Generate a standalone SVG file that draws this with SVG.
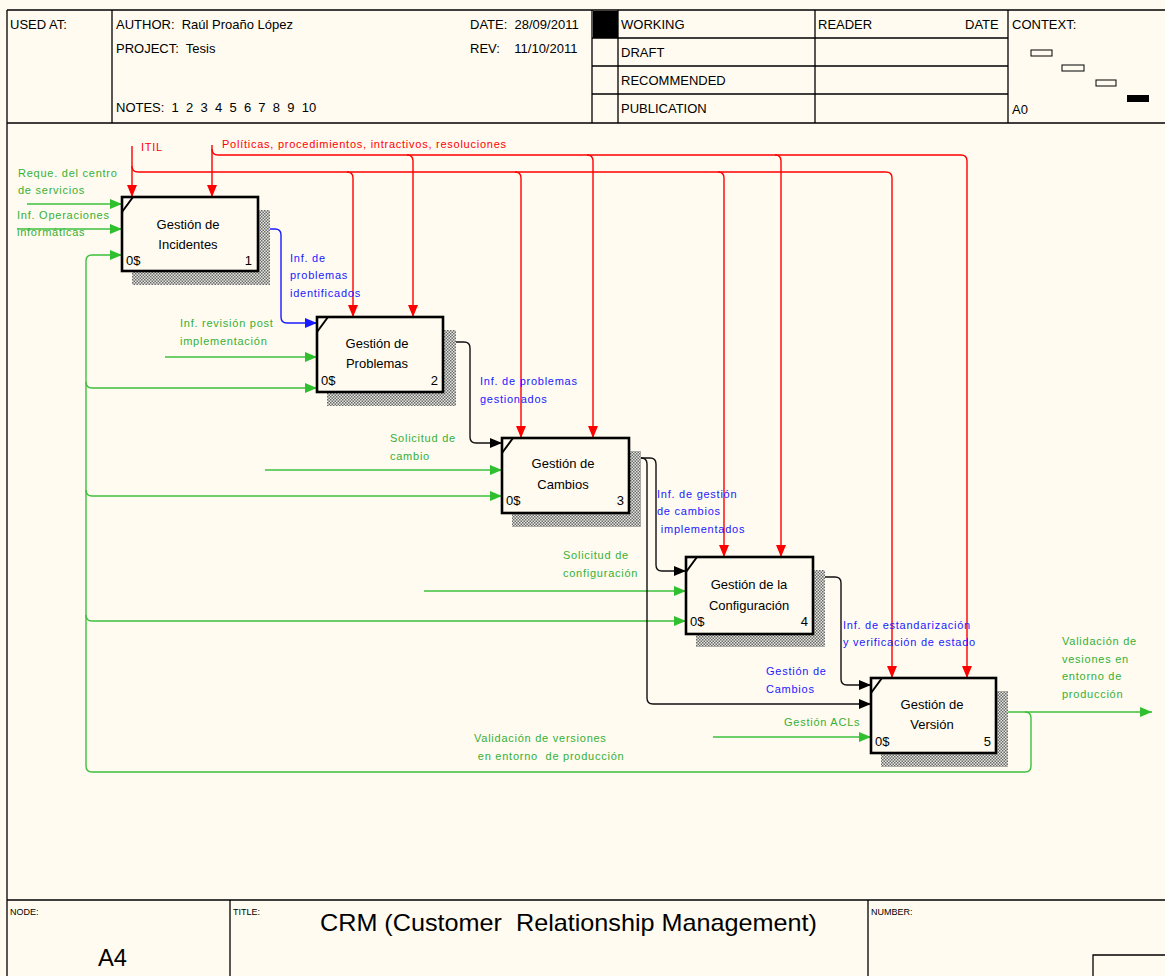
<svg xmlns="http://www.w3.org/2000/svg" width="1165" height="976" viewBox="0 0 1165 976">
  <defs>
    <style>
      text { white-space: pre; }
      .frame { fill: none; stroke: #000; stroke-width: 1.3; }
      .hdr { font-family: "Liberation Sans", Arial, sans-serif; font-size: 13px; fill: #000; }
      .tiny { font-family: "Liberation Sans", Arial, sans-serif; font-size: 9px; fill: #000; }
      .box { fill: #fffbf0; stroke: #000; stroke-width: 2.6; }
      .shadow { fill: url(#hatch); }
      .tick { stroke: #000; stroke-width: 2; }
      .bname { font-family: "Liberation Sans", Arial, sans-serif; font-size: 13px; fill: #000; text-anchor: middle; }
      .bnum { font-family: "Liberation Sans", Arial, sans-serif; font-size: 13px; fill: #000; }
      .lbl { font-family: "Liberation Sans", Arial, sans-serif; font-size: 11px; letter-spacing: 0.75px; }
      .red { stroke: #ff0000; }
      .grn { stroke: #3cc03c; }
      .blu { stroke: #1a1aff; }
      .blk { stroke: #111; }
      .c { fill: none; stroke-width: 1.4; }
      .tr { fill: #ff0000; }
      .tg { fill: #35b035; }
      .tb { fill: #1a1aff; }
    </style>
    <pattern id="hatch" patternUnits="userSpaceOnUse" width="3" height="3">
      <rect width="3" height="3" fill="#e6e6e0"/>
      <rect x="0" y="0" width="1.5" height="1.5" fill="#6a6a6a"/>
      <rect x="1.5" y="1.5" width="1.5" height="1.5" fill="#6a6a6a"/>
    </pattern>
    <marker id="aR" markerUnits="userSpaceOnUse" markerWidth="12" markerHeight="12" viewBox="0 0 12 12" refX="12" refY="6" orient="auto">
      <path d="M0,1 L12,6 L0,11 Z" fill="#ff0000"/>
    </marker>
    <marker id="aG" markerUnits="userSpaceOnUse" markerWidth="12" markerHeight="12" viewBox="0 0 12 12" refX="12" refY="6" orient="auto">
      <path d="M0,1 L12,6 L0,11 Z" fill="#2fbf2f"/>
    </marker>
    <marker id="aB" markerUnits="userSpaceOnUse" markerWidth="12" markerHeight="12" viewBox="0 0 12 12" refX="12" refY="6" orient="auto">
      <path d="M0,1 L12,6 L0,11 Z" fill="#1a1aff"/>
    </marker>
    <marker id="aK" markerUnits="userSpaceOnUse" markerWidth="12" markerHeight="12" viewBox="0 0 12 12" refX="12" refY="6" orient="auto">
      <path d="M0,1 L12,6 L0,11 Z" fill="#000"/>
    </marker>
  </defs>

  <rect width="1165" height="976" fill="#fffbf0"/>

  <!-- sheet frame and header -->
  <g id="header">
    <path class="frame" d="M7,10 H1165 M7,10 V976 M7,123 H1165 M112,10 V123 M592,10 V123 M618,10 V123 M815,10 V123 M1008,10 V123 M592,38 H1008 M592,66 H1008 M592,94 H1008"/>
    <rect x="593" y="11" width="25" height="27" fill="#000"/>
    <text class="hdr" x="10" y="29">USED AT:</text>
    <text class="hdr" x="116" y="29">AUTHOR:  Raúl Proaño López</text>
    <text class="hdr" x="116" y="53">PROJECT:  Tesis</text>
    <text class="hdr" x="116" y="112">NOTES:  1  2  3  4  5  6  7  8  9  10</text>
    <text class="hdr" x="470" y="29">DATE:  28/09/2011</text>
    <text class="hdr" x="470" y="53">REV:    11/10/2011</text>
    <text class="hdr" x="621" y="29">WORKING</text>
    <text class="hdr" x="621" y="57">DRAFT</text>
    <text class="hdr" x="621" y="85">RECOMMENDED</text>
    <text class="hdr" x="621" y="113">PUBLICATION</text>
    <text class="hdr" x="818" y="29">READER</text>
    <text class="hdr" x="965" y="29">DATE</text>
    <text class="hdr" x="1012" y="29">CONTEXT:</text>
    <text class="hdr" x="1012" y="114">A0</text>
    <rect x="1031" y="50" width="21" height="6" fill="none" stroke="#000" stroke-width="1"/>
    <rect x="1062" y="65" width="22" height="6" fill="none" stroke="#000" stroke-width="1"/>
    <rect x="1096" y="80" width="20" height="6" fill="none" stroke="#000" stroke-width="1"/>
    <rect x="1127" y="95" width="22" height="7" fill="#000"/>
  </g>

  <!-- footer -->
  <g id="footer">
    <path class="frame" d="M7,900 H1165 M230,900 V976 M868,900 V976 M1093,976 V955 H1165"/>
    <text class="tiny" x="10" y="915">NODE:</text>
    <text class="tiny" x="233" y="915">TITLE:</text>
    <text class="tiny" x="871" y="915">NUMBER:</text>
    <text x="98" y="966" font-family="Liberation Sans, Arial, sans-serif" font-size="23" textLength="29" lengthAdjust="spacingAndGlyphs">A4</text>
    <text x="320" y="931" font-family="Liberation Sans, Arial, sans-serif" font-size="24" textLength="497" lengthAdjust="spacingAndGlyphs">CRM (Customer  Relationship Management)</text>
  </g>

  <!-- connectors -->
  <g id="connectors">
    <!-- controls: ITIL -->
    <path class="c red" d="M132,146 V197" marker-end="url(#aR)"/>
    <path class="c red" d="M132,166 Q132,172 138,172 H886 Q892,172 892,178 V678" marker-end="url(#aR)"/>
    <path class="c red" d="M347,172 Q353,172 353,178 V317" marker-end="url(#aR)"/>
    <path class="c red" d="M515,172 Q521,172 521,178 V438" marker-end="url(#aR)"/>
    <path class="c red" d="M718,172 Q724,172 724,178 V557" marker-end="url(#aR)"/>
    <!-- controls: policies -->
    <path class="c red" d="M212,145 V197" marker-end="url(#aR)"/>
    <path class="c red" d="M212,149 Q212,155 218,155 H961 Q967,155 967,161 V678" marker-end="url(#aR)"/>
    <path class="c red" d="M407,155 Q413,155 413,161 V317" marker-end="url(#aR)"/>
    <path class="c red" d="M587,155 Q593,155 593,161 V438" marker-end="url(#aR)"/>
    <path class="c red" d="M775,155 Q781,155 781,161 V557" marker-end="url(#aR)"/>

    <!-- inputs -->
    <path class="c grn" d="M27,204 H122" marker-end="url(#aG)"/>
    <path class="c grn" d="M17,229 H122" marker-end="url(#aG)"/>
    <path class="c grn" d="M165,357 H317" marker-end="url(#aG)"/>
    <path class="c grn" d="M265,470 H502" marker-end="url(#aG)"/>
    <path class="c grn" d="M424,591 H686" marker-end="url(#aG)"/>
    <path class="c grn" d="M713,737 H871" marker-end="url(#aG)"/>

    <!-- output of box 5 and feedback loop -->
    <path class="c grn" d="M996,712 H1152" marker-end="url(#aG)"/>
    <path class="c grn" d="M1025,712 Q1031,712 1031,718 V766 Q1031,772 1025,772 H92 Q86,772 86,766 V261 Q86,255 92,255 H122" marker-end="url(#aG)"/>
    <path class="c grn" d="M86,382 Q86,388 92,388 H317" marker-end="url(#aG)"/>
    <path class="c grn" d="M86,490 Q86,496 92,496 H502" marker-end="url(#aG)"/>
    <path class="c grn" d="M86,615 Q86,621 92,621 H686" marker-end="url(#aG)"/>

    <!-- box to box flows -->
    <path class="c blu" d="M258,229 H275 Q281,229 281,235 V317 Q281,323 287,323 H317" marker-end="url(#aB)"/>
    <path class="c blk" d="M443,342 H464 Q470,342 470,348 V437 Q470,443 476,443 H502" marker-end="url(#aK)"/>
    <path class="c blk" d="M629,458 H650 Q656,458 656,464 V565 Q656,571 662,571 H686" marker-end="url(#aK)"/>
    <path class="c blk" d="M641,458 Q647,458 647,464 V698 Q647,704 653,704 H871" marker-end="url(#aK)"/>
    <path class="c blk" d="M813,577 H835 Q841,577 841,583 V679 Q841,685 847,685 H871" marker-end="url(#aK)"/>
  </g>

  <!-- arrow labels -->
  <g id="labels">
    <text class="lbl tr" x="141" y="151">ITIL</text>
    <text class="lbl tr" x="222" y="148">Políticas, procedimientos, intractivos, resoluciones</text>
    <text class="lbl tg" x="18" y="177">Reque. del centro</text>
    <text class="lbl tg" x="18" y="194">de servicios</text>
    <text class="lbl tg" x="17" y="219">Inf. Operaciones</text>
    <text class="lbl tg" x="17" y="236">informáticas</text>
    <text class="lbl tb" x="290" y="262">Inf. de</text>
    <text class="lbl tb" x="290" y="279">problemas</text>
    <text class="lbl tb" x="290" y="297">identificados</text>
    <text class="lbl tg" x="180" y="327">Inf. revisión post</text>
    <text class="lbl tg" x="180" y="345">implementación</text>
    <text class="lbl tb" x="480" y="385">Inf. de problemas</text>
    <text class="lbl tb" x="480" y="403">gestionados</text>
    <text class="lbl tg" x="390" y="442">Solicitud de</text>
    <text class="lbl tg" x="390" y="460">cambio</text>
    <text class="lbl tb" x="657" y="498">Inf. de gestión</text>
    <text class="lbl tb" x="657" y="515">de cambios</text>
    <text class="lbl tb" x="657" y="533"> implementados</text>
    <text class="lbl tg" x="563" y="559">Solicitud de</text>
    <text class="lbl tg" x="563" y="577">configuración</text>
    <text class="lbl tb" x="843" y="629">Inf. de estandarización</text>
    <text class="lbl tb" x="843" y="646">y verificación de estado</text>
    <text class="lbl tb" x="766" y="675">Gestión de</text>
    <text class="lbl tb" x="766" y="693">Cambios</text>
    <text class="lbl tg" x="784" y="726">Gestión ACLs</text>
    <text class="lbl tg" x="1062" y="645">Validación de</text>
    <text class="lbl tg" x="1062" y="663">vesiones en</text>
    <text class="lbl tg" x="1062" y="680">entorno de</text>
    <text class="lbl tg" x="1062" y="698">producción</text>
    <text class="lbl tg" x="474" y="742">Validación de versiones</text>
    <text class="lbl tg" x="474" y="760"> en entorno  de producción</text>
  </g>

  <!-- activity boxes -->
  <g id="box1">
    <rect class="shadow" x="132" y="210" width="138" height="75"/>
    <rect class="box" x="122" y="197" width="136" height="74"/>
    <line class="tick" x1="122" y1="212" x2="133" y2="197"/>
    <text class="bname" x="188" y="229">Gestión de</text>
    <text class="bname" x="188" y="249">Incidentes</text>
    <text class="bnum" x="126" y="265">0$</text>
    <text class="bnum" x="252" y="265" text-anchor="end">1</text>
  </g>
  <g id="box2">
    <rect class="shadow" x="327" y="330" width="129" height="76"/>
    <rect class="box" x="317" y="317" width="126" height="75"/>
    <line class="tick" x1="317" y1="332" x2="328" y2="317"/>
    <text class="bname" x="377" y="348">Gestión de</text>
    <text class="bname" x="377" y="368">Problemas</text>
    <text class="bnum" x="321" y="385">0$</text>
    <text class="bnum" x="438" y="385" text-anchor="end">2</text>
  </g>
  <g id="box3">
    <rect class="shadow" x="512" y="451" width="129" height="76"/>
    <rect class="box" x="502" y="438" width="127" height="75"/>
    <line class="tick" x1="502" y1="453" x2="513" y2="438"/>
    <text class="bname" x="563" y="468">Gestión de</text>
    <text class="bname" x="563" y="489">Cambios</text>
    <text class="bnum" x="506" y="505">0$</text>
    <text class="bnum" x="624" y="505" text-anchor="end">3</text>
  </g>
  <g id="box4">
    <rect class="shadow" x="696" y="570" width="129" height="77"/>
    <rect class="box" x="686" y="557" width="127" height="77"/>
    <line class="tick" x1="686" y1="572" x2="697" y2="557"/>
    <text class="bname" x="749" y="589">Gestión de la</text>
    <text class="bname" x="749" y="610">Configuración</text>
    <text class="bnum" x="690" y="626">0$</text>
    <text class="bnum" x="808" y="626" text-anchor="end">4</text>
  </g>
  <g id="box5">
    <rect class="shadow" x="881" y="691" width="127" height="76"/>
    <rect class="box" x="871" y="678" width="125" height="75"/>
    <line class="tick" x1="871" y1="693" x2="882" y2="678"/>
    <text class="bname" x="932" y="709">Gestión de</text>
    <text class="bname" x="932" y="729">Versión</text>
    <text class="bnum" x="875" y="746">0$</text>
    <text class="bnum" x="991" y="746" text-anchor="end">5</text>
  </g>
</svg>
